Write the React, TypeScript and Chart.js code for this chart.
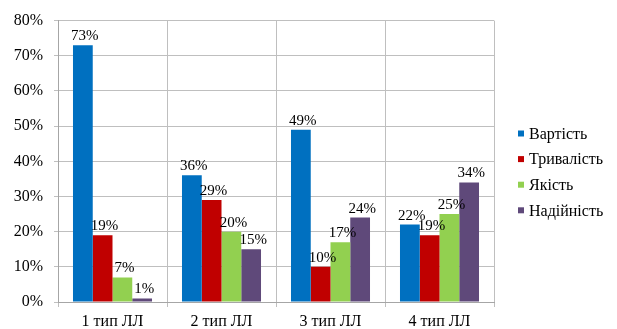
import React, { useEffect, useRef } from "react";
import { Chart, registerables } from "chart.js";

Chart.register(...registerables);

const categories = ["1 тип ЛЛ", "2 тип ЛЛ", "3 тип ЛЛ", "4 тип ЛЛ"];
const seriesNames = ["Вартість", "Тривалість", "Якість", "Надійність"];
const seriesColors = ["#0070C0", "#C00000", "#92D050", "#5F497A"];
const cost = [73, 36, 49, 22];
const duration = [19, 29, 10, 19];
const quality = [7, 20, 17, 25];
const reliability = [1, 15, 24, 34];
const yTicks = [0, 10, 20, 30, 40, 50, 60, 70, 80];

const FONT = '"Liberation Serif", "Times New Roman", serif';

// Value labels above each bar
const valueLabels = {
  id: "valueLabels",
  afterDatasetsDraw(chart: any) {
    const { ctx } = chart;
    ctx.save();
    ctx.font = `15px ${FONT}`;
    ctx.fillStyle = "#000";
    ctx.textAlign = "center";
    ctx.textBaseline = "alphabetic";
    chart.data.datasets.forEach((ds: any, i: number) => {
      const meta = chart.getDatasetMeta(i);
      meta.data.forEach((bar: any, j: number) => {
        ctx.fillText(`${ds.data[j]}%`, bar.x + 2, bar.y - 5);
      });
    });
    ctx.restore();
  },
};

// Legend on the right side, square markers with serif text
const sideLegend = {
  id: "sideLegend",
  afterDraw(chart: any) {
    const { ctx } = chart;
    ctx.save();
    ctx.font = `16px ${FONT}`;
    ctx.textBaseline = "middle";
    ctx.textAlign = "left";
    chart.data.datasets.forEach((ds: any, i: number) => {
      const cy = 133.5 + i * 25.6;
      ctx.fillStyle = ds.backgroundColor;
      ctx.fillRect(518, cy - 3, 6, 6);
      ctx.fillStyle = "#000";
      ctx.fillText(ds.label, 529, cy + 1);
    });
    ctx.restore();
  },
};

export default function App() {
  const canvasRef = useRef<HTMLCanvasElement | null>(null);

  useEffect(() => {
    document.body.style.margin = "0";
    let chart: Chart | null = null;
    let cancelled = false;
    const seriesData = [cost, duration, quality, reliability];

    const build = () => {
      if (cancelled || !canvasRef.current) return;
      chart = new Chart(canvasRef.current, {
        type: "bar",
        data: {
          labels: categories,
          datasets: seriesNames.map((name, i) => ({
            label: name,
            data: seriesData[i],
            backgroundColor: seriesColors[i],
            borderWidth: 0,
            categoryPercentage: 0.725,
            barPercentage: 1,
          })),
        },
        options: {
          animation: false,
          responsive: false,
          devicePixelRatio: 1,
          layout: { padding: { left: 0, right: 123, top: 18, bottom: 0 } },
          plugins: {
            legend: { display: false },
            tooltip: { enabled: false },
          },
          scales: {
            x: {
              afterFit(axis: any) {
                axis.height = 27;
              },
              grid: {
                color: "#BFBFBF",
                lineWidth: 1,
                tickLength: 5,
                offset: true,
              },
              border: { color: "#A6A6A6" },
              ticks: {
                color: "#000",
                font: { family: FONT, size: 16 },
                padding: 5,
              },
            },
            y: {
              min: 0,
              max: 80,
              afterFit(axis: any) {
                axis.width = 58;
              },
              afterBuildTicks(axis: any) {
                axis.ticks = yTicks.map((v) => ({ value: v }));
              },
              grid: {
                color: "#BFBFBF",
                lineWidth: 1,
                tickLength: 4,
              },
              border: { color: "#A6A6A6" },
              ticks: {
                color: "#000",
                font: { family: FONT, size: 16 },
                padding: 11,
                callback: (v: any) => `${v}%`,
              },
            },
          },
        },
        plugins: [valueLabels, sideLegend],
      });
    };

    const fonts: any = (document as any).fonts;
    if (fonts && fonts.load) {
      fonts
        .load('16px "Liberation Serif"', "Вартість 0123456789%")
        .catch(() => null)
        .then(build);
    } else {
      build();
    }

    return () => {
      cancelled = true;
      if (chart) chart.destroy();
    };
  }, []);

  return (
    <div style={{ width: 617, height: 329, background: "#fff" }}>
      <canvas ref={canvasRef} width={617} height={329} />
    </div>
  );
}
